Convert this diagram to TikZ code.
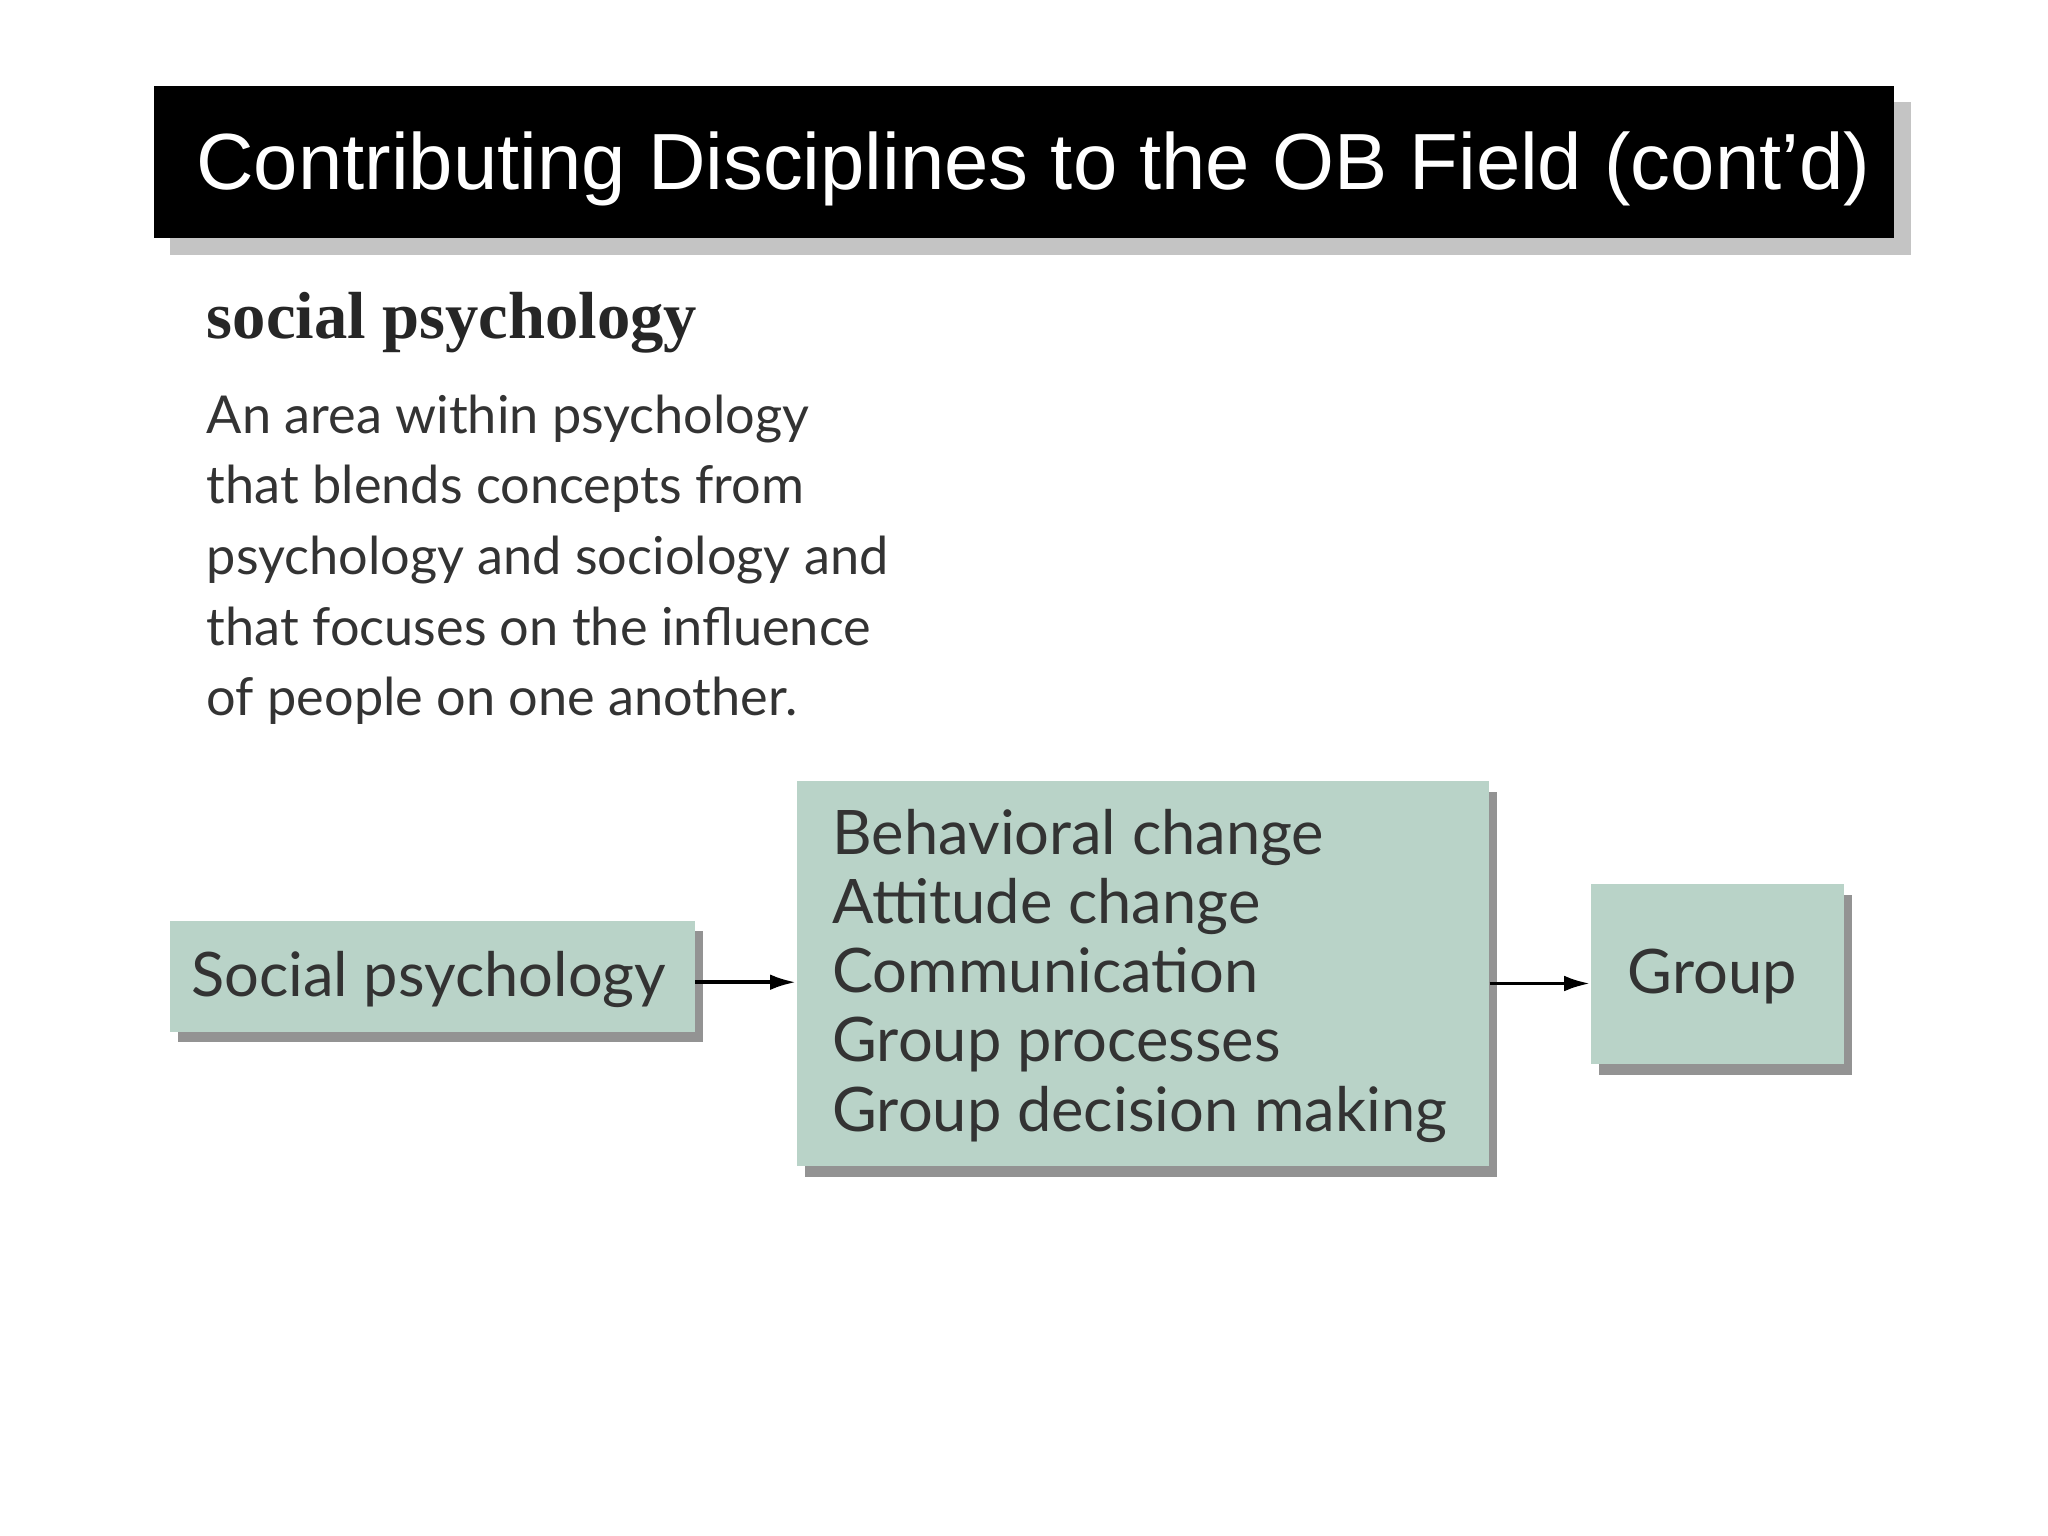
\documentclass[tikz,border=0pt]{standalone}
\usepackage{fontspec}
\setmainfont{Liberation Sans}
\newfontfamily\gill{Lato}
\newfontfamily\slab{Liberation Serif}
\definecolor{boxg}{HTML}{B9D3C8}
\definecolor{titlegray}{HTML}{C4C4C4}
\usetikzlibrary{shadows,arrows.meta}
\tikzset{
  gbox/.style={draw=none,fill=boxg,inner sep=0pt,
    drop shadow={shadow xshift=3pt,shadow yshift=-4pt,fill=black!60,opacity=0.7}},
  arr/.style={-{Latex[length=10pt,width=6pt]},line width=1.5pt}
}
\begin{document}
\begin{tikzpicture}[x=0.5pt,y=-0.5pt]
\useasboundingbox (0,0) rectangle (1568,1176);
\fill[white] (0,0) rectangle (1568,1176);
% title
\fill[titlegray] (130,78) rectangle (1463,195);
\fill[black] (118,66) rectangle (1450,182);
\node[anchor=west,text=white,font=\fontsize{30.5}{35}\selectfont,inner sep=0pt] (title) at (150,129) {Contributing Disciplines to the OB Field (cont’d)};
% definition
\node[anchor=west,inner sep=0pt,font=\slab\bfseries\fontsize{25.5}{30}\selectfont,text=black!85] (term) at (158,247) {social psychology};
\node[anchor=north west,inner sep=0pt,align=left,font=\gill\fontsize{20}{27}\selectfont,text=black!80] (def) at (158,302)
 {An area within psychology\\that blends concepts from\\psychology and sociology and\\that focuses on the influence\\of people on one another.};
% boxes
\node[gbox,minimum width=201pt,minimum height=42.5pt] (sp) at (331,747.5) {};
\node[anchor=west,font=\gill\fontsize{23.5}{27}\selectfont,text=black!80,inner sep=0pt] at (146,750) {Social psychology};
\node[gbox,minimum width=265pt,minimum height=147.5pt] (mid) at (875,745.5) {};
\node[anchor=north west,align=left,inner sep=0pt,font=\gill\fontsize{23.5}{26.5}\selectfont,text=black!80] at (637,619)
 {Behavioral change\\Attitude change\\Communication\\Group processes\\Group decision making};
\node[gbox,minimum width=97pt,minimum height=69pt] (grp) at (1315,746) {};
\node[font=\gill\fontsize{23.5}{27}\selectfont,text=black!80,inner sep=0pt] at (1311,748) {Group};
% arrows
\draw[arr] (sp.east |- 0,752) -- (mid.west |- 0,752);
\draw[arr] (mid.east |- 0,753) -- (grp.west |- 0,753);
\end{tikzpicture}
\end{document}
